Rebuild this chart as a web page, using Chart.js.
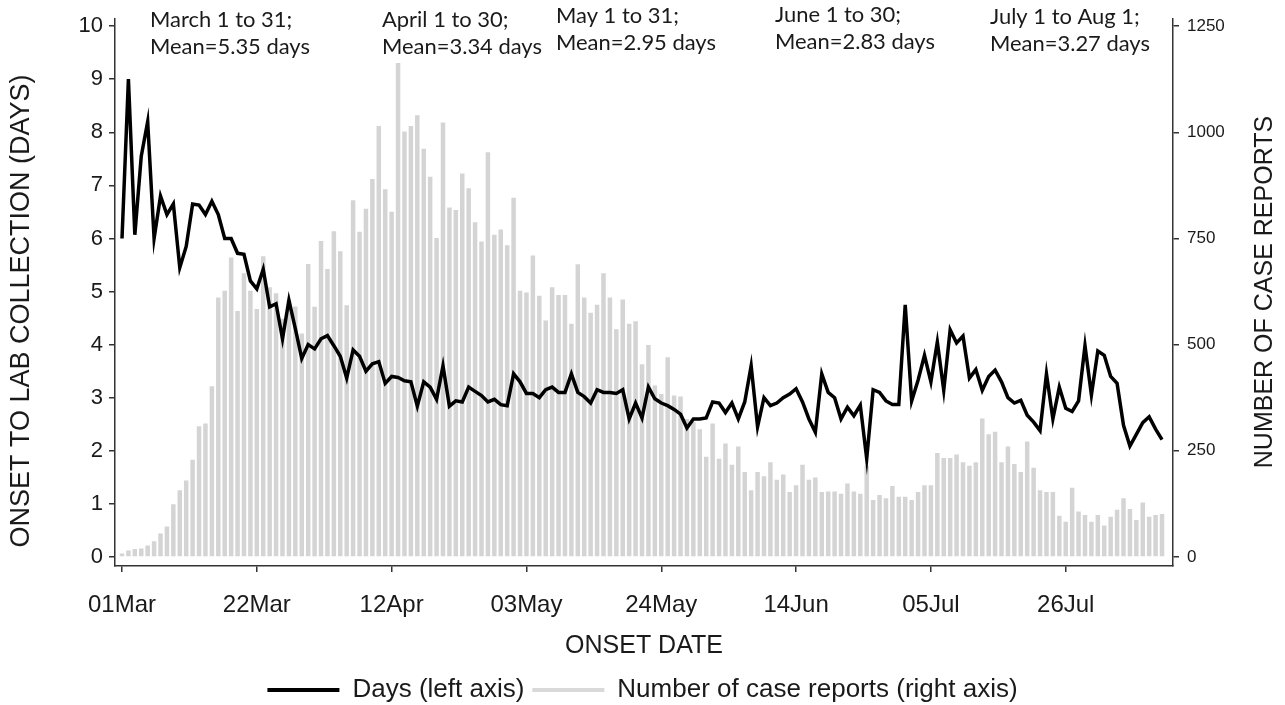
<!DOCTYPE html>
<html><head><meta charset="utf-8">
<script src="https://cdn.jsdelivr.net/npm/chart.js@4.4.0/dist/chart.umd.min.js"></script>
<style>html,body{margin:0;padding:0;background:#fff;}#wrap{width:1285px;height:705px;}</style>
</head><body><div id="wrap"><canvas id="c" width="1285" height="705"></canvas></div>
<script>
// ---- data ----
const monthNames = ['Jan','Feb','Mar','Apr','May','Jun','Jul','Aug','Sep','Oct','Nov','Dec'];
const days = [
6.0, 9.0, 6.07, 7.55, 8.2, 6.0, 6.8, 6.45, 6.65, 5.45,
5.85, 6.65, 6.63, 6.45, 6.7, 6.45, 6.0, 6.0, 5.72, 5.7,
5.2, 5.05, 5.42, 4.71, 4.77, 4.11, 4.84, 4.3, 3.74, 4.0,
3.92, 4.11, 4.17, 3.98, 3.78, 3.37, 3.9, 3.78, 3.5, 3.64,
3.68, 3.27, 3.4, 3.38, 3.32, 3.3, 2.84, 3.3, 3.2, 2.97,
3.6, 2.84, 2.94, 2.92, 3.2, 3.12, 3.04, 2.92, 2.97, 2.87,
2.85, 3.45, 3.3, 3.08, 3.08, 3.0, 3.15, 3.2, 3.1, 3.1,
3.45, 3.1, 3.02, 2.9, 3.15, 3.1, 3.1, 3.08, 3.15, 2.6,
2.9, 2.62, 3.2, 2.98, 2.9, 2.85, 2.78, 2.69, 2.43, 2.6,
2.6, 2.62, 2.92, 2.9, 2.72, 2.9, 2.6, 2.92, 3.6, 2.45,
3.0, 2.85, 2.9, 3.0, 3.07, 3.17, 2.92, 2.6, 2.35, 3.45,
3.1, 3.0, 2.6, 2.82, 2.66, 2.86, 1.85, 3.15, 3.1, 2.94,
2.87, 2.87, 4.75, 2.94, 3.33, 3.8, 3.3, 4.05, 3.14, 4.28,
4.03, 4.16, 3.37, 3.53, 3.14, 3.4, 3.52, 3.3, 3.0, 2.9,
2.95, 2.67, 2.54, 2.38, 3.45, 2.6, 3.2, 2.8, 2.74, 2.94,
3.98, 3.05, 3.88, 3.8, 3.4, 3.27, 2.48, 2.09, 2.31, 2.53,
2.64, 2.41, 2.21];
const reports = [
8, 15, 19, 20, 27, 37, 55, 72, 124, 157,
180, 229, 308, 314, 402, 611, 627, 705, 579, 668,
627, 584, 708, 635, 621, 561, 605, 590, 526, 690,
589, 744, 678, 767, 720, 593, 840, 766, 820, 890,
1015, 866, 813, 1163, 1002, 1015, 1040, 961, 895, 751,
1023, 823, 817, 903, 868, 788, 743, 953, 759, 771,
734, 846, 627, 623, 710, 615, 557, 635, 617, 617,
549, 689, 611, 575, 594, 668, 611, 536, 606, 549,
555, 454, 499, 404, 384, 470, 380, 378, 325, 318,
301, 236, 314, 231, 267, 217, 260, 200, 157, 200,
190, 223, 182, 194, 153, 169, 217, 182, 187, 153,
154, 154, 149, 173, 154, 149, 215, 134, 146, 138,
167, 142, 142, 134, 153, 169, 169, 245, 233, 233,
241, 223, 215, 223, 326, 289, 295, 223, 260, 219,
200, 272, 210, 157, 153, 153, 97, 83, 163, 107,
99, 83, 99, 74, 95, 111, 138, 113, 87, 128,
95, 99, 101];
const categories = days.map((_, i) => {
  const d = new Date(2020, 2, 1 + i);
  return String(d.getDate()).padStart(2, '0') + monthNames[d.getMonth()];
});
const tickLabels = ['01Mar','22Mar','12Apr','03May','24May','14Jun','05Jul','26Jul'];
const leftTicks = [0,1,2,3,4,5,6,7,8,9,10];
const rightTicks = [0,250,500,750,1000,1250];
const periodLabels = ['March 1 to 31;','April 1 to 30;','May 1 to 31;','June 1 to 30;','July 1 to Aug 1;'];
const periodMeans = ['5.35','3.34','2.95','2.83','3.27'];
const leftTitle = 'ONSET TO LAB COLLECTION (DAYS)';
const rightTitle = 'NUMBER OF CASE REPORTS';
const xTitle = 'ONSET DATE';

// ---- drawing ----
const AX = '#333333', TXT = '#1a1a1a', SANS = '"Liberation Sans", Arial, sans-serif';
const extraText = {
  id: 'extraText',
  afterLayout(chart) {
    if (chart.legend) { chart.legend.top += 8; chart.legend.bottom += 8; }
  },
  afterDraw(chart) {
    const ctx = chart.ctx;
    ctx.save();
    ctx.fillStyle = TXT;
    ctx.textAlign = 'center';
    ctx.textBaseline = 'middle';
    ctx.font = '27px ' + SANS;
    ctx.translate(22, 311); ctx.rotate(-Math.PI / 2); ctx.fillText(leftTitle, 0, 0);
    ctx.setTransform(1, 0, 0, 1, 0, 0);
    ctx.font = '25px ' + SANS;
    ctx.translate(1265, 292); ctx.rotate(-Math.PI / 2); ctx.fillText(rightTitle, 0, 0);
    ctx.setTransform(1, 0, 0, 1, 0, 0);
    // period annotations
    let fs = 24;
    ctx.font = fs + 'px Lato';
    const w = ctx.measureText('Mean=5.35 days').width;
    fs = fs * 160 / w;
    ctx.font = fs.toFixed(2) + 'px Lato';
    ctx.textAlign = 'left';
    const pos = [[150, 20], [382, 20], [556, 16], [775, 15], [990, 17]];
    periodLabels.forEach((lab, i) => {
      ctx.fillText(lab, pos[i][0], pos[i][1]);
      ctx.fillText('Mean=' + periodMeans[i] + ' days', pos[i][0], pos[i][1] + 27);
    });
    ctx.restore();
  }
};

const lineData = days.map((v, i) => ({x: i, y: v}));
const barData = reports.map((v, i) => ({x: i, y: v}));

new Chart(document.getElementById('c'), {
  type: 'bar',
  data: {
    datasets: [
      { type: 'line', label: 'Days (left axis)', data: lineData, yAxisID: 'yL',
        borderColor: '#000', backgroundColor: '#000', borderWidth: 3.5, pointRadius: 0, tension: 0, order: 0 },
      { type: 'bar', label: 'Number of case reports (right axis)', data: barData, yAxisID: 'yR',
        backgroundColor: '#d4d4d4', borderWidth: 0, barPercentage: 0.7, categoryPercentage: 1.0, order: 1 }
    ]
  },
  options: {
    responsive: false, animation: false, devicePixelRatio: 1,
    layout: { padding: { top: 15, left: 0, right: 0, bottom: 0 } },
    plugins: {
      tooltip: { enabled: false },
      legend: {
        position: 'bottom',
        labels: {
          font: { family: SANS, size: 26 }, color: TXT, boxWidth: 72, boxHeight: 4, padding: 8,
          generateLabels: chart => chart.data.datasets.map((ds, i) => ({
            text: ds.label, fillStyle: i === 0 ? '#000' : '#d9d9d9', strokeStyle: i === 0 ? '#000' : '#d9d9d9',
            lineWidth: 0, hidden: false, datasetIndex: i, fontColor: TXT
          }))
        }
      }
    },
    scales: {
      x: {
        type: 'linear', min: -1.09, max: 163.71, offset: false,
        grid: { drawOnChartArea: false, drawTicks: true, tickLength: 6, color: AX, lineWidth: 1.5, offset: false },
        border: { display: true, color: AX, width: 1.5 },
        afterBuildTicks: s => { s.ticks = tickLabels.map(l => ({ value: categories.indexOf(l) })); },
        ticks: { callback: v => categories[v], font: { family: SANS, size: 24 }, color: TXT, padding: 19, maxRotation: 0, autoSkip: false },
        title: { display: true, text: xTitle, font: { family: SANS, size: 25 }, color: TXT, padding: { top: 0, bottom: 0 } },
        afterFit: s => { const lh = (s.chart.legend && s.chart.legend.height) || 44; s.height = 705 - 566 - lh; }
      },
      yL: {
        type: 'linear', position: 'left', min: -0.17, max: 10.13,
        grid: { drawOnChartArea: false, tickLength: 6, color: AX, lineWidth: 1.5 },
        border: { display: true, color: AX, width: 1.5 },
        afterBuildTicks: s => { s.ticks = leftTicks.map(v => ({ value: v })); },
        ticks: { callback: v => String(v), font: { family: SANS, size: 22 }, color: TXT, padding: 6, autoSkip: false },
        afterFit: s => { s.width = 115; }
      },
      yR: {
        type: 'linear', position: 'right', min: -21.25, max: 1266.25,
        grid: { drawOnChartArea: false, tickLength: 6, color: AX, lineWidth: 1.5 },
        border: { display: true, color: AX, width: 1.5 },
        afterBuildTicks: s => { s.ticks = rightTicks.map(v => ({ value: v })); },
        ticks: { callback: v => String(v), font: { family: SANS, size: 17 }, color: TXT, padding: 8, autoSkip: false },
        afterFit: s => { s.width = 112; }
      }
    }
  },
  plugins: [extraText]
});
</script></body></html>
